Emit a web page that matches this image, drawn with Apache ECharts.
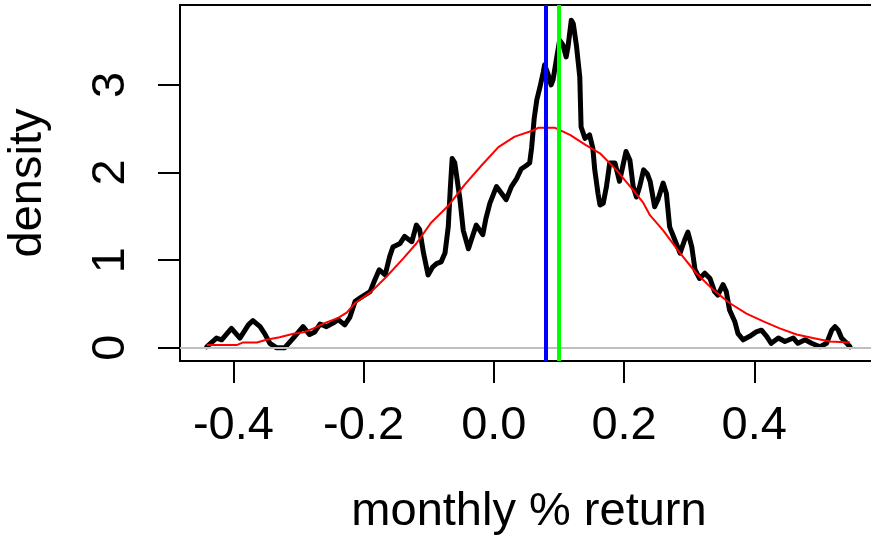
<!DOCTYPE html>
<html><head><meta charset="utf-8">
<script src="https://cdn.jsdelivr.net/npm/echarts@6/dist/echarts.min.js"></script>
<style>html,body{margin:0;padding:0;background:#fff}#c{width:871px;height:540px}</style>
</head><body><div id="c"></div>
<script>
// empirical density (black)
const densX = [-0.441,-0.426,-0.418,-0.403,-0.390,-0.377,-0.370,-0.359,-0.352,-0.344,-0.334,-0.321,-0.308,-0.293,-0.283,-0.275,-0.267,-0.257,-0.247,-0.239,-0.229,-0.221,-0.213,-0.203,-0.190,-0.183,-0.176,-0.167,-0.160,-0.155,-0.144,-0.137,-0.126,-0.119,-0.114,-0.108,-0.101,-0.094,-0.088,-0.081,-0.075,-0.070,-0.067,-0.064,-0.060,-0.052,-0.047,-0.039,-0.032,-0.027,-0.017,-0.012,-0.006,0.004,0.012,0.019,0.027,0.035,0.042,0.050,0.055,0.058,0.062,0.066,0.071,0.076,0.078,0.083,0.088,0.091,0.096,0.101,0.106,0.111,0.114,0.119,0.122,0.127,0.132,0.134,0.140,0.147,0.152,0.155,0.160,0.163,0.168,0.173,0.178,0.186,0.193,0.198,0.203,0.209,0.214,0.219,0.224,0.230,0.236,0.240,0.247,0.252,0.260,0.265,0.270,0.278,0.286,0.293,0.298,0.304,0.309,0.316,0.324,0.332,0.339,0.344,0.352,0.357,0.362,0.370,0.375,0.383,0.393,0.403,0.411,0.419,0.426,0.437,0.447,0.460,0.467,0.478,0.488,0.501,0.511,0.519,0.524,0.529,0.534,0.542,0.547];
const densY = [0.01,0.11,0.09,0.22,0.11,0.26,0.31,0.24,0.16,0.05,0.00,0.00,0.11,0.24,0.15,0.18,0.27,0.24,0.28,0.32,0.26,0.35,0.53,0.58,0.64,0.77,0.89,0.83,1.04,1.15,1.19,1.27,1.21,1.40,1.35,1.08,0.83,0.92,0.96,0.98,1.08,1.38,1.80,2.16,2.11,1.69,1.34,1.13,1.29,1.40,1.29,1.48,1.65,1.84,1.76,1.69,1.84,1.93,2.04,2.08,2.11,2.28,2.62,2.83,2.98,3.15,3.23,3.13,3.00,3.06,3.29,3.51,3.46,3.32,3.44,3.74,3.70,3.44,3.09,2.52,2.39,2.43,2.28,2.03,1.76,1.63,1.65,1.84,2.11,2.11,1.90,2.07,2.24,2.14,1.84,1.72,1.84,2.03,1.98,1.90,1.61,1.69,1.88,1.76,1.38,1.23,1.08,1.23,1.32,1.15,0.89,0.79,0.85,0.79,0.64,0.60,0.72,0.64,0.43,0.30,0.16,0.09,0.13,0.18,0.20,0.13,0.05,0.11,0.07,0.11,0.05,0.09,0.05,0.01,0.05,0.20,0.24,0.20,0.11,0.05,0.01];
// smooth reference density (red)
const fitX = [-0.441,-0.395,-0.385,-0.364,-0.349,-0.329,-0.308,-0.290,-0.277,-0.260,-0.239,-0.226,-0.213,-0.188,-0.165,-0.139,-0.119,-0.096,-0.070,-0.045,-0.019,0.007,0.032,0.060,0.068,0.094,0.117,0.142,0.163,0.188,0.214,0.229,0.240,0.260,0.286,0.311,0.337,0.362,0.388,0.414,0.439,0.465,0.490,0.516,0.547];
const fitY = [0.03,0.03,0.06,0.06,0.09,0.12,0.16,0.18,0.22,0.28,0.34,0.40,0.51,0.64,0.81,1.02,1.19,1.43,1.62,1.86,2.08,2.29,2.41,2.48,2.51,2.51,2.43,2.31,2.22,2.03,1.80,1.66,1.51,1.34,1.08,0.85,0.66,0.51,0.39,0.30,0.22,0.15,0.11,0.07,0.06];
const xTicks = [-0.4,-0.2,0.0,0.2,0.4];
const yTicks = [0,1,2,3];
const medianX = 0.081;
const meanX = 0.095;

const FONT = "'Liberation Sans', Arial, Helvetica, sans-serif";
const chart = echarts.init(document.getElementById('c'), null, {renderer:'canvas'});
const pairs = (xs, ys) => xs.map((x,i)=>[x, ys[i]]);
const ml = (item, color, width) => ({
  silent:true, symbol:['none','none'], label:{show:false}, animation:false,
  emphasis:{disabled:true},
  lineStyle:{color, width, type:'solid'}, data:[item]
});
chart.setOption({
  animation:false,
  backgroundColor:'#fff',
  grid:{left:180, top:5, width:698, height:356, show:true, borderColor:'#000', borderWidth:2, backgroundColor:'transparent', containLabel:false, outerBoundsMode:'none'},
  xAxis:{type:'value', min:-0.482, max:0.59,
    axisLine:{show:false, onZero:false}, splitLine:{show:false},
    axisTick:{show:true, customValues:xTicks, length:22, lineStyle:{color:'#000', width:2}},
    axisLabel:{customValues:xTicks, formatter:v=>v.toFixed(1), fontSize:47, color:'#000', fontFamily:FONT, margin:42},
    name:'monthly % return', nameLocation:'middle', nameGap:128,
    nameTextStyle:{fontSize:47, color:'#000', fontFamily:FONT}},
  yAxis:{type:'value', min:-0.152, max:3.913,
    axisLine:{show:false, onZero:false}, splitLine:{show:false},
    axisTick:{show:true, customValues:yTicks, length:22, lineStyle:{color:'#000', width:2}},
    axisLabel:{customValues:yTicks, rotate:90, fontSize:47, color:'#000', fontFamily:FONT, margin:45},
    name:'density', nameLocation:'middle', nameRotate:90, nameGap:128,
    nameTextStyle:{fontSize:47, color:'#000', fontFamily:FONT}},
  series:[
    {type:'line', data:[], z:1, markLine:ml({yAxis:0}, '#bebebe', 2)},
    {type:'line', data:pairs(densX, densY), z:2, showSymbol:false, symbol:'none',
      lineStyle:{color:'#000', width:5, join:'round', cap:'round'}},
    {type:'line', data:pairs(fitX, fitY), z:3, showSymbol:false, symbol:'none',
      lineStyle:{color:'#ff0000', width:2}},
    {type:'line', data:[], z:4, markLine:ml({xAxis:medianX}, '#0000ff', 4)},
    {type:'line', data:[], z:5, markLine:ml({xAxis:meanX}, '#00ff00', 4)}
  ]
});
</script></body></html>
